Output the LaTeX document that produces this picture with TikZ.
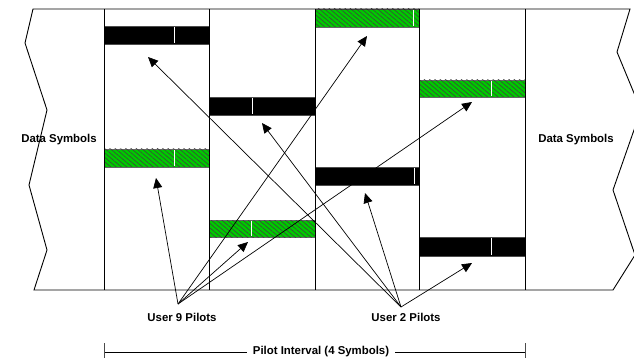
\documentclass[tikz,border=0pt]{standalone}
\usepackage{fontspec}
\setmainfont{Liberation Sans}
\usetikzlibrary{arrows.meta,patterns.meta}
\definecolor{pilotgreen}{RGB}{0,200,0}
\tikzset{
  frame/.style={line width=0.9pt, black},
  blackbar/.style={fill=black, draw=black!70, line width=0.4pt},
  greenbar/.style={fill=pilotgreen, draw=black!60, line width=0.4pt,
    postaction={pattern={Lines[angle=-40,distance=3.4pt,line width=0.55pt]}, pattern color=black!75}},
  tickmark/.style={white, line width=1pt},
  pointer/.style={line width=0.7pt, -{Triangle[length=10pt,width=9pt]}},
  lbl/.style={font=\fontsize{11.4}{13}\selectfont\bfseries, inner sep=1pt},
}
\begin{document}
\begin{tikzpicture}[x=1pt,y=-1pt]
\useasboundingbox (0,0) rectangle (634,358);
\clip (0,0) rectangle (634,358);
\fill[white] (0,0) rectangle (634,358);

% pilot bars: x-range, y-range, position of the white split
\newcommand\pbar[6]{%
  \path[#1] (#2,#4) rectangle (#3,#5);
  \draw[tickmark] (#6,#4+0.6) -- (#6,#5-0.6);}
\pbar{blackbar}{104}{209}{26}{44}{174}
\pbar{greenbar}{104}{209}{149}{167}{174}
\pbar{blackbar}{209}{315}{97}{115}{252}
\pbar{greenbar}{209}{315}{220}{237}{251}
\pbar{greenbar}{315}{419}{9}{27}{413}
\pbar{blackbar}{315}{419}{167}{185}{414}
\pbar{greenbar}{419}{525}{80}{97}{491}
\pbar{blackbar}{419}{525}{237}{256}{491}

% outline with broken (zig-zag) ends
\draw[frame] (33,9) -- (25,43) -- (47,110) -- (29,185) -- (47,250) -- (34,290)
  -- (613,290) -- (635,255) -- (613,190) -- (641,110) -- (617,52) -- (630,9) -- cycle;
\foreach \x in {104,209,315,419,525} \draw[frame] (\x,9) -- (\x,290);

% labels
\node[lbl] (dl) at (59,140) {Data Symbols};
\node[lbl] (dr) at (576,140) {Data Symbols};
\node[lbl] (u9) at (182,317) {User 9 Pilots};
\node[lbl] (u2) at (406,317) {User 2 Pilots};
\node[lbl, inner xsep=6pt] (pi) at (321,352) {Pilot Interval (4 Symbols)};

% arrow sources and tips
\coordinate (s9) at (178,304);
\coordinate (s2) at (401,307);
\coordinate (g1) at (156,178);
\coordinate (g2) at (248,242);
\coordinate (g3) at (367,36);
\coordinate (g4) at (472,102);
\coordinate (b1) at (148,57);
\coordinate (b2) at (262,123);
\coordinate (b3) at (365,193);
\coordinate (b4) at (472,263);

\foreach \t in {g1,g2,g3,g4} \draw[pointer] (s9) -- (\t);
\foreach \t in {b1,b2,b3,b4} \draw[pointer] (s2) -- (\t);

% pilot interval dimension line
\coordinate (il) at (104,352);
\coordinate (ir) at (525,352);
\draw[line width=0.7pt] (il) -- (pi.west);
\draw[line width=0.7pt] (pi.east) -- (ir);
\draw[line width=0.9pt, black!70] (104,343) -- (104,361);
\draw[line width=0.9pt, black!70] (525,343) -- (525,361);
\end{tikzpicture}
\end{document}
